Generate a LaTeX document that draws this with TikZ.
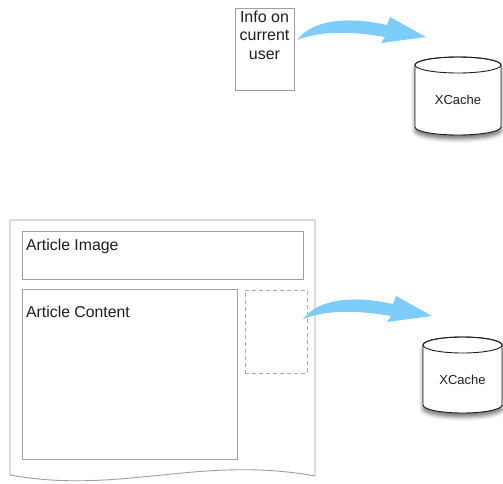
\documentclass[tikz,border=0pt]{standalone}
\usepackage{fontspec}
\setmainfont{Liberation Sans}
\usetikzlibrary{shadows.blur}
\definecolor{boxgray}{RGB}{158,158,158}
\definecolor{dashgray}{RGB}{170,170,170}
\definecolor{flowblue}{RGB}{125,205,250}
\definecolor{inkdark}{RGB}{30,30,30}
\begin{document}
\begin{tikzpicture}[x=1pt,y=-1pt,
  panel/.style={draw=boxgray, line width=0.9pt, inner sep=0pt, anchor=north west},
  slot/.style={draw=dashgray, line width=0.9pt, dash pattern=on 4pt off 3pt, inner sep=0pt, anchor=north west},
  caption/.style={font=\fontsize{15.8}{18}\selectfont, text=inkdark, inner sep=0pt, anchor=base west},
  cachelabel/.style={font=\fontsize{13}{15}\selectfont, text=inkdark, inner sep=0pt},
  drum/.style={fill=white, draw=inkdark, line width=0.9pt,
    blur shadow={shadow xshift=0pt, shadow yshift=-4pt, shadow blur radius=4pt, shadow opacity=55}},
  flowarrow/.pic={
    \fill[flowblue] (0,0) .. controls (15,-20) and (50,-24) .. (90,-15)
      -- (93,-23) -- (129,-3) -- (84,3) -- (88,-3)
      .. controls (53,-9) and (23,-9) .. (0,0) -- cycle;
  }]
\useasboundingbox (0,0) rectangle (503,483);

% ---- user info and its cache ----
\node[panel, minimum width=59pt, minimum height=82pt] (info) at (235,8) {};
\node[font=\fontsize{16}{18.5}\selectfont, text=inkdark, align=center, inner sep=0pt, anchor=north]
  (infotext) at (264.5,10.5) {Info on\\current\\user};

\path[drum] (415,65) -- (415,127) arc[start angle=180, end angle=0, x radius=43, y radius=8]
  -- (501,65) arc[start angle=0, end angle=-180, x radius=43, y radius=8] -- cycle;
\draw[inkdark, line width=0.9pt] (458,65) ellipse [x radius=43, y radius=8];
\node[cachelabel] (cacheA) at (458,100) {XCache};

\pic at (297,40) {flowarrow};

% ---- article page and its cache ----
\coordinate (pageNW) at (10,220);
\draw[draw=boxgray, line width=0.9pt, fill=white] (pageNW) -- (315,220) -- (315,476)
  .. controls (200,455) and (120,495) .. (10,475) -- cycle;

\node[panel, minimum width=281pt, minimum height=48pt] (image) at (22,231) {};
\node[caption] (imagetext) at (26,250) {Article Image};

\node[panel, minimum width=215pt, minimum height=170pt] (content) at (22,289) {};
\node[caption] (contenttext) at (26,317) {Article Content};

\node[slot, minimum width=62pt, minimum height=83pt] (fragment) at (245,290) {};

\path[drum] (423,345) -- (423,405) arc[start angle=180, end angle=0, x radius=39.5, y radius=8]
  -- (502,345) arc[start angle=0, end angle=-180, x radius=39.5, y radius=8] -- cycle;
\draw[inkdark, line width=0.9pt] (462.5,345) ellipse [x radius=39.5, y radius=8];
\node[cachelabel] (cacheB) at (462.5,380) {XCache};

\pic at (303,319) {flowarrow};
\end{tikzpicture}
\end{document}
